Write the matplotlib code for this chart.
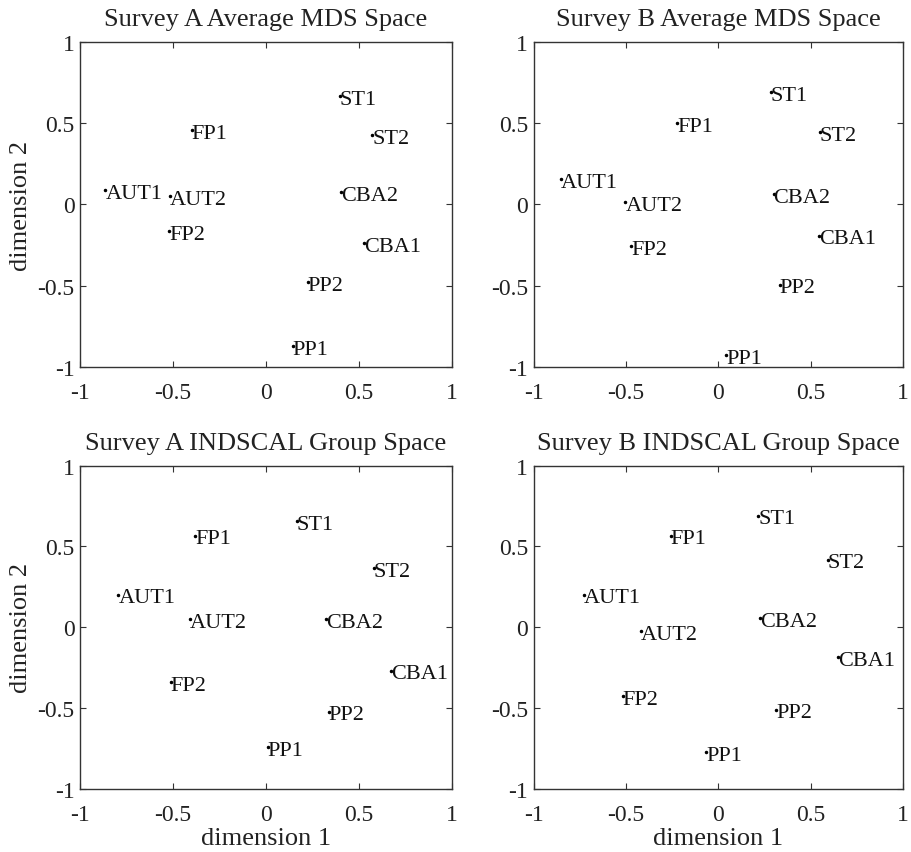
import matplotlib
matplotlib.use("Agg")
import matplotlib.pyplot as plt
from matplotlib.ticker import FuncFormatter

plt.rcParams['font.family'] = ['Liberation Serif', 'DejaVu Serif']

labels = ["ST1", "ST2", "FP1", "AUT1", "AUT2", "CBA2", "FP2", "CBA1", "PP2", "PP1"]

# Survey A average MDS space
a_mds_x = [0.395, 0.570, -0.399, -0.864, -0.516, 0.403, -0.520, 0.525, 0.223, 0.144]
a_mds_y = [0.667, 0.426, 0.459, 0.090, 0.053, 0.074, -0.166, -0.240, -0.479, -0.872]

# Survey B average MDS space
b_mds_x = [0.284, 0.549, -0.223, -0.852, -0.502, 0.300, -0.470, 0.544, 0.333, 0.044]
b_mds_y = [0.692, 0.446, 0.500, 0.156, 0.016, 0.063, -0.254, -0.192, -0.493, -0.925]

# Survey A INDSCAL group space
a_ind_x = [0.166, 0.579, -0.381, -0.794, -0.408, 0.324, -0.512, 0.672, 0.336, 0.008]
a_ind_y = [0.656, 0.367, 0.567, 0.202, 0.052, 0.052, -0.340, -0.268, -0.522, -0.742]

# Survey B INDSCAL group space
b_ind_x = [0.216, 0.594, -0.257, -0.726, -0.419, 0.228, -0.518, 0.648, 0.315, -0.064]
b_ind_y = [0.691, 0.419, 0.567, 0.202, -0.025, 0.058, -0.427, -0.186, -0.509, -0.773]

titles = ["Survey A Average MDS Space", "Survey B Average MDS Space",
          "Survey A INDSCAL Group Space", "Survey B INDSCAL Group Space"]
ticks = [-1, -0.5, 0, 0.5, 1]


def tick_fmt(v, pos):
    return ("%g" % v).replace("\u2212", "-")


def mds_panel(ax, xs, ys, title, xlabel=None, ylabel=None):
    ax.plot(xs, ys, "k.", markersize=3)
    for x, y, lab in zip(xs, ys, labels):
        ax.text(x, y - 0.02, lab, fontsize=16, ha="left", va="center", color="#111111")
    ax.set_xlim(-1, 1)
    ax.set_ylim(-1, 1)
    ax.set_xticks(ticks)
    ax.set_yticks(ticks)
    ax.xaxis.set_major_formatter(FuncFormatter(tick_fmt))
    ax.yaxis.set_major_formatter(FuncFormatter(tick_fmt))
    ax.tick_params(direction="in", top=True, right=True, labelsize=17,
                   length=4, width=0.8, color="#333333", labelcolor="#222222")
    ax.tick_params(axis="x", pad=11)
    ax.tick_params(axis="y", pad=4)
    for s in ax.spines.values():
        s.set_linewidth(1.0)
        s.set_color("#333333")
    ax.set_title(title, fontsize=19, pad=12, color="#222222")
    if xlabel:
        ax.set_xlabel(xlabel, fontsize=19, labelpad=1, color="#222222")
    if ylabel:
        ax.set_ylabel(ylabel, fontsize=19, labelpad=4, color="#222222")


fig = plt.figure(figsize=(9.12, 8.53), dpi=100)
ax1 = fig.add_axes([0.0877, 0.5686, 0.408, 0.381])
ax2 = fig.add_axes([0.585, 0.5686, 0.405, 0.381])
ax3 = fig.add_axes([0.0877, 0.0739, 0.408, 0.379])
ax4 = fig.add_axes([0.585, 0.0739, 0.405, 0.379])

mds_panel(ax1, a_mds_x, a_mds_y, titles[0], ylabel="dimension 2")
mds_panel(ax2, b_mds_x, b_mds_y, titles[1])
mds_panel(ax3, a_ind_x, a_ind_y, titles[2], xlabel="dimension 1", ylabel="dimension 2")
mds_panel(ax4, b_ind_x, b_ind_y, titles[3], xlabel="dimension 1")

plt.savefig("out.png", dpi=100)
